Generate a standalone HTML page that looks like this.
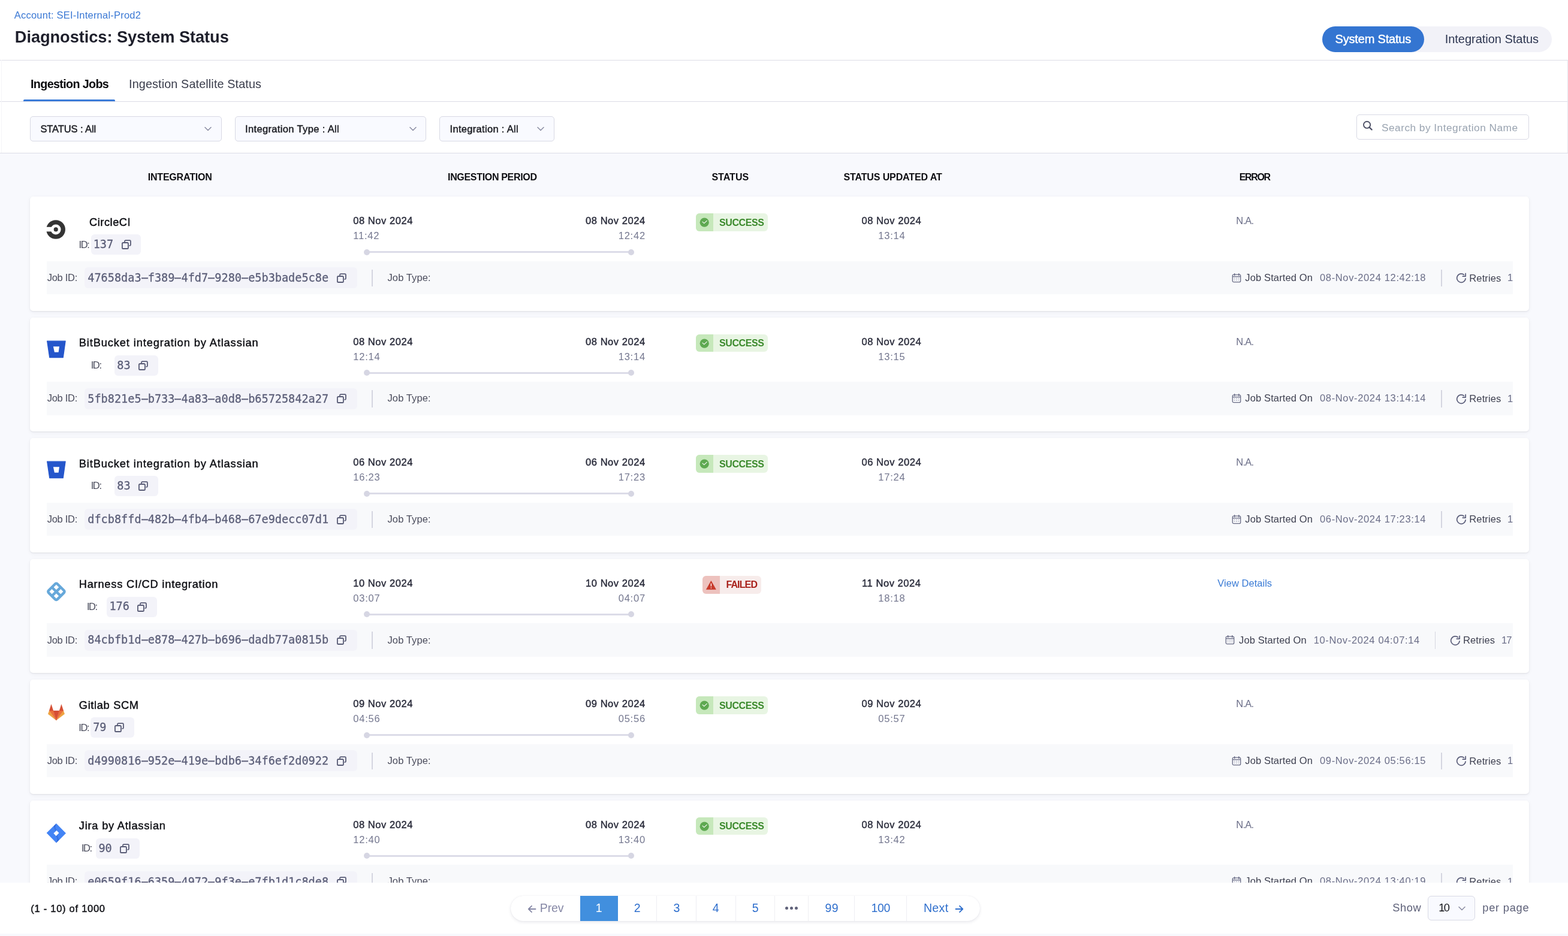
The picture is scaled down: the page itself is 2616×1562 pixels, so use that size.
<!DOCTYPE html><html lang="en"><head><meta charset="utf-8"><title>Diagnostics: System Status</title><style>
*{margin:0;padding:0;box-sizing:border-box}
html,body{width:2616px;height:1562px;overflow:hidden;background:#f8f9fd}
body{position:relative;font-family:'Liberation Sans',Arial,sans-serif}
.t{position:absolute;white-space:nowrap;line-height:1.117}
.r{position:absolute;display:block}
.m{display:inline-block;width:0;height:0;vertical-align:baseline}
.hy{display:inline-block;transform:scaleX(2.2)}
</style></head><body>
<div class="r" style="left:0.00px;top:0.00px;width:2616.00px;height:256.00px;background:#ffffff;"></div>
<div class="t" style="left:23.80px;top:16px;font-size:16.5px;color:#3a78d4;letter-spacing:0.217px;">Account: SEI-Internal-Prod2</div>
<div class="t" style="left:24.80px;top:47px;font-size:27.25px;color:#1e1f2b;font-weight:700;letter-spacing:-0.076px;">Diagnostics: System Status</div>
<div class="r" style="left:2205.90px;top:44.00px;width:382.90px;height:42.80px;background:#f2f2f8;border-radius:22px;"></div>
<div class="r" style="left:2205.90px;top:44.00px;width:170.10px;height:42.80px;background:#3475d1;border-radius:22px;"></div>
<div class="t" style="left:2227.60px;top:54px;font-size:20px;color:#ffffff;-webkit-text-stroke:0.45px #ffffff;letter-spacing:-0.187px;">System Status</div>
<div class="t" style="left:2410.70px;top:54px;font-size:20px;color:#2c3550;letter-spacing:-0.026px;">Integration Status</div>
<div class="r" style="left:0.00px;top:100.00px;width:2616.00px;height:1.20px;background:#dcdce6;"></div>
<div class="t" style="left:51.00px;top:129px;font-size:19.75px;color:#0b0b0d;font-weight:700;letter-spacing:-0.658px;">Ingestion Jobs</div>
<div class="t" style="left:215.00px;top:129px;font-size:19.75px;color:#383b4a;letter-spacing:0.144px;">Ingestion Satellite Status</div>
<div class="r" style="left:0.00px;top:168.60px;width:2616.00px;height:1.40px;background:#dcdce6;"></div>
<div class="r" style="left:39.00px;top:166.20px;width:153.30px;height:3.00px;background:#3a7bd8;border-radius:2px 2px 0 0;"></div>
<div class="r" style="left:2614.60px;top:100.00px;width:1.40px;height:156.00px;background:#e6e6ee;"></div>
<div class="r" style="left:1.80px;top:100.00px;width:1.00px;height:156.00px;background:#f5f5f8;"></div>
<div class="r" style="left:50.00px;top:194.20px;width:320.00px;height:42.20px;background:#f9faff;border:1.3px solid #d8d9e4;border-radius:5px;box-sizing:border-box;"></div>
<div class="t" style="left:67.40px;top:206px;font-size:16.5px;color:#1b1c22;-webkit-text-stroke:0.45px #1b1c22;letter-spacing:-0.091px;">STATUS : All</div>
<svg class="r" style="left:341.30px;top:211.00px" width="12" height="9" viewBox="0 0 12 9"><path d="M1 1.5 L6 6.5 L11 1.5" fill="none" stroke="#8a8ca3" stroke-width="1.5" stroke-linecap="round" stroke-linejoin="round"/></svg>
<div class="r" style="left:391.60px;top:194.20px;width:319.10px;height:42.20px;background:#f9faff;border:1.3px solid #d8d9e4;border-radius:5px;box-sizing:border-box;"></div>
<div class="t" style="left:409.00px;top:206px;font-size:16.5px;color:#1b1c22;-webkit-text-stroke:0.45px #1b1c22;letter-spacing:0.357px;">Integration Type : All</div>
<svg class="r" style="left:683.10px;top:211.00px" width="12" height="9" viewBox="0 0 12 9"><path d="M1 1.5 L6 6.5 L11 1.5" fill="none" stroke="#8a8ca3" stroke-width="1.5" stroke-linecap="round" stroke-linejoin="round"/></svg>
<div class="r" style="left:733.20px;top:194.20px;width:191.40px;height:42.20px;background:#f9faff;border:1.3px solid #d8d9e4;border-radius:5px;box-sizing:border-box;"></div>
<div class="t" style="left:750.60px;top:206px;font-size:16.5px;color:#1b1c22;-webkit-text-stroke:0.45px #1b1c22;letter-spacing:0.303px;">Integration : All</div>
<svg class="r" style="left:896.30px;top:211.00px" width="12" height="9" viewBox="0 0 12 9"><path d="M1 1.5 L6 6.5 L11 1.5" fill="none" stroke="#8a8ca3" stroke-width="1.5" stroke-linecap="round" stroke-linejoin="round"/></svg>
<div class="r" style="left:2263.30px;top:191.30px;width:287.30px;height:42.10px;background:#ffffff;border:1.3px solid #d8d9e4;border-radius:5px;box-sizing:border-box;"></div>
<svg class="r" style="left:2272.00px;top:200.00px" width="20" height="20" viewBox="0 0 20 20"><circle cx="8.6" cy="8.3" r="5.6" fill="none" stroke="#4f5267" stroke-width="1.9"/><path d="M12.6 12.4 L16.6 16.4" stroke="#4f5267" stroke-width="2.2" stroke-linecap="round"/></svg>
<div class="t" style="left:2305.00px;top:204px;font-size:17.25px;color:#9aa4b1;letter-spacing:0.488px;">Search by Integration Name</div>
<div class="r" style="left:0.00px;top:255.00px;width:2616.00px;height:1.20px;background:#dcdce6;"></div>
<div class="r" style="left:0.00px;top:256.20px;width:2616.00px;height:1216.80px;background:#f8f9fd;"></div>
<div class="t" style="left:246.70px;top:287px;font-size:16px;color:#0c0c10;font-weight:700;letter-spacing:-0.195px;">INTEGRATION</div>
<div class="t" style="left:747.00px;top:287px;font-size:16px;color:#0c0c10;font-weight:700;letter-spacing:-0.320px;">INGESTION PERIOD</div>
<div class="t" style="left:1187.40px;top:287px;font-size:16px;color:#0c0c10;font-weight:700;letter-spacing:0.030px;">STATUS</div>
<div class="t" style="left:1407.40px;top:287px;font-size:16px;color:#0c0c10;font-weight:700;letter-spacing:-0.113px;">STATUS UPDATED AT</div>
<div class="t" style="left:2067.70px;top:287px;font-size:16px;color:#0c0c10;font-weight:700;letter-spacing:-1.325px;">ERROR</div>
<div style="position:absolute;left:0;top:256px;width:2616px;height:1217px;overflow:hidden;">
<div style="position:absolute;left:0;top:-256px;width:2616px;height:1600px;">
<div class="r" style="left:50.00px;top:328.00px;width:2500.60px;height:190.60px;background:#ffffff;border-radius:5px;box-shadow:0 1px 2px rgba(40,45,60,0.09),0 2px 7px rgba(40,45,60,0.05);"></div>
<svg class="r" style="left:76.00px;top:366.00px" width="34" height="34" viewBox="0 0 34 34"><circle cx="17.1" cy="17" r="15.85" fill="#343434"/><circle cx="17.1" cy="17" r="8.5" fill="#fff"/><rect x="0" y="12.8" width="17" height="7.6" fill="#fff"/><circle cx="17.25" cy="16.9" r="3.55" fill="#343434"/></svg>
<div class="t" style="left:149.00px;top:361px;font-size:18.25px;color:#0e0f14;-webkit-text-stroke:0.45px #0e0f14;letter-spacing:0.529px;">CircleCI</div>
<div class="t" style="left:131.50px;top:399px;font-size:16.5px;color:#4a4c5c;letter-spacing:-1.400px;">ID:</div>
<div class="r" style="left:151.50px;top:391.00px;width:83.70px;height:34.00px;background:#f3f3f9;border-radius:6px;"></div>
<div class="t" style="left:155.70px;top:398px;font-size:18.55px;color:#5b5e78;font-family:'DejaVu Sans Mono',monospace;-webkit-text-stroke:0.3px #5b5e78;">137</div>
<svg class="r" style="left:202.70px;top:400.30px" width="16" height="16" viewBox="0 0 16 16"><rect x="0.9" y="5" width="10" height="10" rx="1.6" fill="none" stroke="#585b75" stroke-width="1.8"/><path d="M5 3.2 V2.6 a1.5 1.5 0 0 1 1.5 -1.5 H13.4 a1.5 1.5 0 0 1 1.5 1.5 V8.4 a1.5 1.5 0 0 1 -1.5 1.5 H13.2" fill="none" stroke="#585b75" stroke-width="1.8" stroke-linecap="round"/></svg>
<div class="t" style="left:589.20px;top:359px;font-size:16.5px;color:#2b2d3c;-webkit-text-stroke:0.45px #2b2d3c;letter-spacing:0.565px;">08 Nov 2024</div>
<div class="t" style="left:589.20px;top:384px;font-size:16.5px;color:#74778f;letter-spacing:0.812px;">11:42</div>
<div class="t" style="left:977.00px;top:359px;font-size:16.5px;color:#2b2d3c;-webkit-text-stroke:0.45px #2b2d3c;letter-spacing:0.565px;">08 Nov 2024</div>
<div class="t" style="left:1031.65px;top:384px;font-size:16.5px;color:#74778f;letter-spacing:0.812px;">12:42</div>
<div class="r" style="left:612.40px;top:419.00px;width:440.10px;height:3.00px;background:#dcdce8;"></div>
<div class="r" style="left:607.40px;top:415.50px;width:10.00px;height:10.00px;background:#d6d6e3;border-radius:50%;"></div>
<div class="r" style="left:1047.50px;top:415.50px;width:10.00px;height:10.00px;background:#d6d6e3;border-radius:50%;"></div>
<div class="r" style="left:1161.10px;top:356.00px;width:119.80px;height:29.80px;background:#e8f5e3;border-radius:6px;"></div>
<div class="r" style="left:1161.10px;top:356.00px;width:29.00px;height:29.80px;background:#c6e8bb;border-radius:6px 0 0 6px;"></div>
<svg class="r" style="left:1161.10px;top:356.00px" width="29" height="30" viewBox="0 0 29 30"><circle cx="14.2" cy="15.2" r="7.6" fill="#5ea951"/><path d="M11 14.2 L13.7 16.7 L18.3 12.4" fill="none" stroke="#fff" stroke-width="1.1" stroke-linecap="round" stroke-linejoin="round"/></svg>
<div class="t" style="left:1200.00px;top:363px;font-size:16px;color:#3b8a2c;font-weight:700;letter-spacing:-0.392px;">SUCCESS</div>
<div class="t" style="left:1437.40px;top:359px;font-size:16.5px;color:#2b2d3c;-webkit-text-stroke:0.45px #2b2d3c;letter-spacing:0.565px;">08 Nov 2024</div>
<div class="t" style="left:1465.22px;top:384px;font-size:16.5px;color:#74778f;letter-spacing:0.812px;">13:14</div>
<div class="t" style="left:2062.35px;top:359px;font-size:16.5px;color:#6b6e88;letter-spacing:-0.800px;">N.A.</div>
<div class="r" style="left:78.00px;top:435.50px;width:2446.00px;height:55.50px;background:#f8f9fb;"></div>
<div class="t" style="left:78.70px;top:454px;font-size:16.5px;color:#4a4c5c;letter-spacing:-0.275px;">Job ID:</div>
<div class="r" style="left:141.00px;top:446.00px;width:454.60px;height:35.00px;background:#f3f3f9;border-radius:6px;"></div>
<div class="t" style="left:146.30px;top:454px;font-size:18.55px;color:#5b5e78;font-family:'DejaVu Sans Mono',monospace;-webkit-text-stroke:0.3px #5b5e78;">47658da3<span class="hy">-</span>f389<span class="hy">-</span>4fd7<span class="hy">-</span>9280<span class="hy">-</span>e5b3bade5c8e</div>
<svg class="r" style="left:562.00px;top:455.60px" width="16" height="16" viewBox="0 0 16 16"><rect x="0.9" y="5" width="10" height="10" rx="1.6" fill="none" stroke="#585b75" stroke-width="1.8"/><path d="M5 3.2 V2.6 a1.5 1.5 0 0 1 1.5 -1.5 H13.4 a1.5 1.5 0 0 1 1.5 1.5 V8.4 a1.5 1.5 0 0 1 -1.5 1.5 H13.2" fill="none" stroke="#585b75" stroke-width="1.8" stroke-linecap="round"/></svg>
<div class="r" style="left:620.30px;top:449.70px;width:1.50px;height:28.70px;background:#d5d6e0;"></div>
<div class="t" style="left:646.50px;top:454px;font-size:16.5px;color:#4a4c5c;letter-spacing:0.106px;">Job Type:</div>
<svg class="r" style="left:2054.50px;top:455.60px" width="16" height="16" viewBox="0 0 16 16"><rect x="1.3" y="2.2" width="13.4" height="12.5" rx="2" fill="none" stroke="#686b85" stroke-width="1.3"/><path d="M1.3 5.6 H14.7" stroke="#686b85" stroke-width="1.3"/><path d="M4.7 0.8 V3.4 M11.8 0.8 V3.4" stroke="#686b85" stroke-width="1.5" stroke-linecap="round"/><g fill="#b4b6c6"><rect x="3.5" y="7.6" width="2" height="1.4"/><rect x="7" y="7.6" width="2" height="1.4"/><rect x="10.5" y="7.6" width="2" height="1.4"/><rect x="3.5" y="10.6" width="2" height="1.4"/><rect x="7" y="10.6" width="2" height="1.4"/><rect x="10.5" y="10.6" width="2" height="1.4"/></g></svg>
<div class="t" style="left:2077.30px;top:454px;font-size:16.5px;color:#3e4050;letter-spacing:0.131px;">Job Started On</div>
<div class="t" style="left:2202.00px;top:454px;font-size:16.5px;color:#6b6e88;letter-spacing:0.647px;">08-Nov-2024 12:42:18</div>
<div class="r" style="left:2404.00px;top:449.70px;width:1.50px;height:28.70px;background:#d5d6e0;"></div>
<svg class="r" style="left:2429.00px;top:455.00px" width="18" height="18" viewBox="0 0 18 18"><path d="M16.1 9.3 A7.2 7.2 0 1 1 13.9 3.9" fill="none" stroke="#5b5e7a" stroke-width="1.7"/><path d="M16.1 1.3 V6.1 H11.3" fill="none" stroke="#5b5e7a" stroke-width="1.7" stroke-linejoin="round" stroke-linecap="round"/></svg>
<div class="t" style="left:2451.30px;top:455px;font-size:16.5px;color:#3e4050;letter-spacing:0.131px;">Retries</div>
<div class="t" style="left:2515.00px;top:454px;font-size:16.5px;color:#6b6e88;">1</div>
<div class="r" style="left:50.00px;top:529.50px;width:2500.60px;height:190.60px;background:#ffffff;border-radius:5px;box-shadow:0 1px 2px rgba(40,45,60,0.09),0 2px 7px rgba(40,45,60,0.05);"></div>
<svg class="r" style="left:76.00px;top:565.50px" width="36" height="34" viewBox="0 0 36 34"><path d="M2.7 3.2 H33.1 L29.2 30.7 H6.8 Z" fill="#2556cb" stroke="#2556cb" stroke-width="1.3" stroke-linejoin="round"/><path d="M12.85 12.3 H23 L21.6 21.7 H14.9 Z" fill="#fff"/></svg>
<div class="t" style="left:131.70px;top:562px;font-size:18.25px;color:#0e0f14;-webkit-text-stroke:0.45px #0e0f14;letter-spacing:0.886px;">BitBucket integration by Atlassian</div>
<div class="t" style="left:151.70px;top:600px;font-size:16.5px;color:#4a4c5c;letter-spacing:-1.400px;">ID:</div>
<div class="r" style="left:191.10px;top:592.50px;width:72.53px;height:34.00px;background:#f3f3f9;border-radius:6px;"></div>
<div class="t" style="left:195.30px;top:600px;font-size:18.55px;color:#5b5e78;font-family:'DejaVu Sans Mono',monospace;-webkit-text-stroke:0.3px #5b5e78;">83</div>
<svg class="r" style="left:231.13px;top:601.80px" width="16" height="16" viewBox="0 0 16 16"><rect x="0.9" y="5" width="10" height="10" rx="1.6" fill="none" stroke="#585b75" stroke-width="1.8"/><path d="M5 3.2 V2.6 a1.5 1.5 0 0 1 1.5 -1.5 H13.4 a1.5 1.5 0 0 1 1.5 1.5 V8.4 a1.5 1.5 0 0 1 -1.5 1.5 H13.2" fill="none" stroke="#585b75" stroke-width="1.8" stroke-linecap="round"/></svg>
<div class="t" style="left:589.20px;top:561px;font-size:16.5px;color:#2b2d3c;-webkit-text-stroke:0.45px #2b2d3c;letter-spacing:0.565px;">08 Nov 2024</div>
<div class="t" style="left:589.20px;top:586px;font-size:16.5px;color:#74778f;letter-spacing:0.812px;">12:14</div>
<div class="t" style="left:977.00px;top:561px;font-size:16.5px;color:#2b2d3c;-webkit-text-stroke:0.45px #2b2d3c;letter-spacing:0.565px;">08 Nov 2024</div>
<div class="t" style="left:1031.65px;top:586px;font-size:16.5px;color:#74778f;letter-spacing:0.812px;">13:14</div>
<div class="r" style="left:612.40px;top:620.50px;width:440.10px;height:3.00px;background:#dcdce8;"></div>
<div class="r" style="left:607.40px;top:617.00px;width:10.00px;height:10.00px;background:#d6d6e3;border-radius:50%;"></div>
<div class="r" style="left:1047.50px;top:617.00px;width:10.00px;height:10.00px;background:#d6d6e3;border-radius:50%;"></div>
<div class="r" style="left:1161.10px;top:557.50px;width:119.80px;height:29.80px;background:#e8f5e3;border-radius:6px;"></div>
<div class="r" style="left:1161.10px;top:557.50px;width:29.00px;height:29.80px;background:#c6e8bb;border-radius:6px 0 0 6px;"></div>
<svg class="r" style="left:1161.10px;top:557.50px" width="29" height="30" viewBox="0 0 29 30"><circle cx="14.2" cy="15.2" r="7.6" fill="#5ea951"/><path d="M11 14.2 L13.7 16.7 L18.3 12.4" fill="none" stroke="#fff" stroke-width="1.1" stroke-linecap="round" stroke-linejoin="round"/></svg>
<div class="t" style="left:1200.00px;top:564px;font-size:16px;color:#3b8a2c;font-weight:700;letter-spacing:-0.392px;">SUCCESS</div>
<div class="t" style="left:1437.40px;top:561px;font-size:16.5px;color:#2b2d3c;-webkit-text-stroke:0.45px #2b2d3c;letter-spacing:0.565px;">08 Nov 2024</div>
<div class="t" style="left:1465.22px;top:586px;font-size:16.5px;color:#74778f;letter-spacing:0.812px;">13:15</div>
<div class="t" style="left:2062.35px;top:561px;font-size:16.5px;color:#6b6e88;letter-spacing:-0.800px;">N.A.</div>
<div class="r" style="left:78.00px;top:637.00px;width:2446.00px;height:55.50px;background:#f8f9fb;"></div>
<div class="t" style="left:78.70px;top:655px;font-size:16.5px;color:#4a4c5c;letter-spacing:-0.275px;">Job ID:</div>
<div class="r" style="left:141.00px;top:647.50px;width:454.60px;height:35.00px;background:#f3f3f9;border-radius:6px;"></div>
<div class="t" style="left:146.30px;top:656px;font-size:18.55px;color:#5b5e78;font-family:'DejaVu Sans Mono',monospace;-webkit-text-stroke:0.3px #5b5e78;">5fb821e5<span class="hy">-</span>b733<span class="hy">-</span>4a83<span class="hy">-</span>a0d8<span class="hy">-</span>b65725842a27</div>
<svg class="r" style="left:562.00px;top:657.10px" width="16" height="16" viewBox="0 0 16 16"><rect x="0.9" y="5" width="10" height="10" rx="1.6" fill="none" stroke="#585b75" stroke-width="1.8"/><path d="M5 3.2 V2.6 a1.5 1.5 0 0 1 1.5 -1.5 H13.4 a1.5 1.5 0 0 1 1.5 1.5 V8.4 a1.5 1.5 0 0 1 -1.5 1.5 H13.2" fill="none" stroke="#585b75" stroke-width="1.8" stroke-linecap="round"/></svg>
<div class="r" style="left:620.30px;top:651.20px;width:1.50px;height:28.70px;background:#d5d6e0;"></div>
<div class="t" style="left:646.50px;top:655px;font-size:16.5px;color:#4a4c5c;letter-spacing:0.106px;">Job Type:</div>
<svg class="r" style="left:2054.50px;top:657.10px" width="16" height="16" viewBox="0 0 16 16"><rect x="1.3" y="2.2" width="13.4" height="12.5" rx="2" fill="none" stroke="#686b85" stroke-width="1.3"/><path d="M1.3 5.6 H14.7" stroke="#686b85" stroke-width="1.3"/><path d="M4.7 0.8 V3.4 M11.8 0.8 V3.4" stroke="#686b85" stroke-width="1.5" stroke-linecap="round"/><g fill="#b4b6c6"><rect x="3.5" y="7.6" width="2" height="1.4"/><rect x="7" y="7.6" width="2" height="1.4"/><rect x="10.5" y="7.6" width="2" height="1.4"/><rect x="3.5" y="10.6" width="2" height="1.4"/><rect x="7" y="10.6" width="2" height="1.4"/><rect x="10.5" y="10.6" width="2" height="1.4"/></g></svg>
<div class="t" style="left:2077.30px;top:655px;font-size:16.5px;color:#3e4050;letter-spacing:0.131px;">Job Started On</div>
<div class="t" style="left:2202.00px;top:655px;font-size:16.5px;color:#6b6e88;letter-spacing:0.647px;">08-Nov-2024 13:14:14</div>
<div class="r" style="left:2404.00px;top:651.20px;width:1.50px;height:28.70px;background:#d5d6e0;"></div>
<svg class="r" style="left:2429.00px;top:656.50px" width="18" height="18" viewBox="0 0 18 18"><path d="M16.1 9.3 A7.2 7.2 0 1 1 13.9 3.9" fill="none" stroke="#5b5e7a" stroke-width="1.7"/><path d="M16.1 1.3 V6.1 H11.3" fill="none" stroke="#5b5e7a" stroke-width="1.7" stroke-linejoin="round" stroke-linecap="round"/></svg>
<div class="t" style="left:2451.30px;top:656px;font-size:16.5px;color:#3e4050;letter-spacing:0.131px;">Retries</div>
<div class="t" style="left:2515.00px;top:656px;font-size:16.5px;color:#6b6e88;">1</div>
<div class="r" style="left:50.00px;top:731.00px;width:2500.60px;height:190.60px;background:#ffffff;border-radius:5px;box-shadow:0 1px 2px rgba(40,45,60,0.09),0 2px 7px rgba(40,45,60,0.05);"></div>
<svg class="r" style="left:76.00px;top:767.00px" width="36" height="34" viewBox="0 0 36 34"><path d="M2.7 3.2 H33.1 L29.2 30.7 H6.8 Z" fill="#2556cb" stroke="#2556cb" stroke-width="1.3" stroke-linejoin="round"/><path d="M12.85 12.3 H23 L21.6 21.7 H14.9 Z" fill="#fff"/></svg>
<div class="t" style="left:131.70px;top:764px;font-size:18.25px;color:#0e0f14;-webkit-text-stroke:0.45px #0e0f14;letter-spacing:0.886px;">BitBucket integration by Atlassian</div>
<div class="t" style="left:151.70px;top:801px;font-size:16.5px;color:#4a4c5c;letter-spacing:-1.400px;">ID:</div>
<div class="r" style="left:191.10px;top:794.00px;width:72.53px;height:34.00px;background:#f3f3f9;border-radius:6px;"></div>
<div class="t" style="left:195.30px;top:801px;font-size:18.55px;color:#5b5e78;font-family:'DejaVu Sans Mono',monospace;-webkit-text-stroke:0.3px #5b5e78;">83</div>
<svg class="r" style="left:231.13px;top:803.30px" width="16" height="16" viewBox="0 0 16 16"><rect x="0.9" y="5" width="10" height="10" rx="1.6" fill="none" stroke="#585b75" stroke-width="1.8"/><path d="M5 3.2 V2.6 a1.5 1.5 0 0 1 1.5 -1.5 H13.4 a1.5 1.5 0 0 1 1.5 1.5 V8.4 a1.5 1.5 0 0 1 -1.5 1.5 H13.2" fill="none" stroke="#585b75" stroke-width="1.8" stroke-linecap="round"/></svg>
<div class="t" style="left:589.20px;top:762px;font-size:16.5px;color:#2b2d3c;-webkit-text-stroke:0.45px #2b2d3c;letter-spacing:0.565px;">06 Nov 2024</div>
<div class="t" style="left:589.20px;top:787px;font-size:16.5px;color:#74778f;letter-spacing:0.812px;">16:23</div>
<div class="t" style="left:977.00px;top:762px;font-size:16.5px;color:#2b2d3c;-webkit-text-stroke:0.45px #2b2d3c;letter-spacing:0.565px;">06 Nov 2024</div>
<div class="t" style="left:1031.65px;top:787px;font-size:16.5px;color:#74778f;letter-spacing:0.812px;">17:23</div>
<div class="r" style="left:612.40px;top:822.00px;width:440.10px;height:3.00px;background:#dcdce8;"></div>
<div class="r" style="left:607.40px;top:818.50px;width:10.00px;height:10.00px;background:#d6d6e3;border-radius:50%;"></div>
<div class="r" style="left:1047.50px;top:818.50px;width:10.00px;height:10.00px;background:#d6d6e3;border-radius:50%;"></div>
<div class="r" style="left:1161.10px;top:759.00px;width:119.80px;height:29.80px;background:#e8f5e3;border-radius:6px;"></div>
<div class="r" style="left:1161.10px;top:759.00px;width:29.00px;height:29.80px;background:#c6e8bb;border-radius:6px 0 0 6px;"></div>
<svg class="r" style="left:1161.10px;top:759.00px" width="29" height="30" viewBox="0 0 29 30"><circle cx="14.2" cy="15.2" r="7.6" fill="#5ea951"/><path d="M11 14.2 L13.7 16.7 L18.3 12.4" fill="none" stroke="#fff" stroke-width="1.1" stroke-linecap="round" stroke-linejoin="round"/></svg>
<div class="t" style="left:1200.00px;top:766px;font-size:16px;color:#3b8a2c;font-weight:700;letter-spacing:-0.392px;">SUCCESS</div>
<div class="t" style="left:1437.40px;top:762px;font-size:16.5px;color:#2b2d3c;-webkit-text-stroke:0.45px #2b2d3c;letter-spacing:0.565px;">06 Nov 2024</div>
<div class="t" style="left:1465.22px;top:787px;font-size:16.5px;color:#74778f;letter-spacing:0.812px;">17:24</div>
<div class="t" style="left:2062.35px;top:762px;font-size:16.5px;color:#6b6e88;letter-spacing:-0.800px;">N.A.</div>
<div class="r" style="left:78.00px;top:838.50px;width:2446.00px;height:55.50px;background:#f8f9fb;"></div>
<div class="t" style="left:78.70px;top:857px;font-size:16.5px;color:#4a4c5c;letter-spacing:-0.275px;">Job ID:</div>
<div class="r" style="left:141.00px;top:849.00px;width:454.60px;height:35.00px;background:#f3f3f9;border-radius:6px;"></div>
<div class="t" style="left:146.30px;top:857px;font-size:18.55px;color:#5b5e78;font-family:'DejaVu Sans Mono',monospace;-webkit-text-stroke:0.3px #5b5e78;">dfcb8ffd<span class="hy">-</span>482b<span class="hy">-</span>4fb4<span class="hy">-</span>b468<span class="hy">-</span>67e9decc07d1</div>
<svg class="r" style="left:562.00px;top:858.60px" width="16" height="16" viewBox="0 0 16 16"><rect x="0.9" y="5" width="10" height="10" rx="1.6" fill="none" stroke="#585b75" stroke-width="1.8"/><path d="M5 3.2 V2.6 a1.5 1.5 0 0 1 1.5 -1.5 H13.4 a1.5 1.5 0 0 1 1.5 1.5 V8.4 a1.5 1.5 0 0 1 -1.5 1.5 H13.2" fill="none" stroke="#585b75" stroke-width="1.8" stroke-linecap="round"/></svg>
<div class="r" style="left:620.30px;top:852.70px;width:1.50px;height:28.70px;background:#d5d6e0;"></div>
<div class="t" style="left:646.50px;top:857px;font-size:16.5px;color:#4a4c5c;letter-spacing:0.106px;">Job Type:</div>
<svg class="r" style="left:2054.50px;top:858.60px" width="16" height="16" viewBox="0 0 16 16"><rect x="1.3" y="2.2" width="13.4" height="12.5" rx="2" fill="none" stroke="#686b85" stroke-width="1.3"/><path d="M1.3 5.6 H14.7" stroke="#686b85" stroke-width="1.3"/><path d="M4.7 0.8 V3.4 M11.8 0.8 V3.4" stroke="#686b85" stroke-width="1.5" stroke-linecap="round"/><g fill="#b4b6c6"><rect x="3.5" y="7.6" width="2" height="1.4"/><rect x="7" y="7.6" width="2" height="1.4"/><rect x="10.5" y="7.6" width="2" height="1.4"/><rect x="3.5" y="10.6" width="2" height="1.4"/><rect x="7" y="10.6" width="2" height="1.4"/><rect x="10.5" y="10.6" width="2" height="1.4"/></g></svg>
<div class="t" style="left:2077.30px;top:857px;font-size:16.5px;color:#3e4050;letter-spacing:0.131px;">Job Started On</div>
<div class="t" style="left:2202.00px;top:857px;font-size:16.5px;color:#6b6e88;letter-spacing:0.647px;">06-Nov-2024 17:23:14</div>
<div class="r" style="left:2404.00px;top:852.70px;width:1.50px;height:28.70px;background:#d5d6e0;"></div>
<svg class="r" style="left:2429.00px;top:858.00px" width="18" height="18" viewBox="0 0 18 18"><path d="M16.1 9.3 A7.2 7.2 0 1 1 13.9 3.9" fill="none" stroke="#5b5e7a" stroke-width="1.7"/><path d="M16.1 1.3 V6.1 H11.3" fill="none" stroke="#5b5e7a" stroke-width="1.7" stroke-linejoin="round" stroke-linecap="round"/></svg>
<div class="t" style="left:2451.30px;top:857px;font-size:16.5px;color:#3e4050;letter-spacing:0.131px;">Retries</div>
<div class="t" style="left:2515.00px;top:857px;font-size:16.5px;color:#6b6e88;">1</div>
<div class="r" style="left:50.00px;top:932.50px;width:2500.60px;height:190.60px;background:#ffffff;border-radius:5px;box-shadow:0 1px 2px rgba(40,45,60,0.09),0 2px 7px rgba(40,45,60,0.05);"></div>
<svg class="r" style="left:76.00px;top:968.50px" width="36" height="36" viewBox="0 0 36 36"><g transform="rotate(45 17.9 18.3)" fill="none" stroke="#66a8da" stroke-width="4.4"><rect x="7.499999999999998" y="7.9" width="20.8" height="20.8" rx="2.6"/><path d="M7.499999999999998 18.3 H28.299999999999997 M17.9 7.9 V28.700000000000003"/></g></svg>
<div class="t" style="left:131.70px;top:965px;font-size:18.25px;color:#0e0f14;-webkit-text-stroke:0.45px #0e0f14;letter-spacing:0.779px;">Harness CI/CD integration</div>
<div class="t" style="left:144.90px;top:1003px;font-size:16.5px;color:#4a4c5c;letter-spacing:-1.400px;">ID:</div>
<div class="r" style="left:178.20px;top:995.50px;width:83.70px;height:34.00px;background:#f3f3f9;border-radius:6px;"></div>
<div class="t" style="left:182.40px;top:1002px;font-size:18.55px;color:#5b5e78;font-family:'DejaVu Sans Mono',monospace;-webkit-text-stroke:0.3px #5b5e78;">176</div>
<svg class="r" style="left:229.40px;top:1004.80px" width="16" height="16" viewBox="0 0 16 16"><rect x="0.9" y="5" width="10" height="10" rx="1.6" fill="none" stroke="#585b75" stroke-width="1.8"/><path d="M5 3.2 V2.6 a1.5 1.5 0 0 1 1.5 -1.5 H13.4 a1.5 1.5 0 0 1 1.5 1.5 V8.4 a1.5 1.5 0 0 1 -1.5 1.5 H13.2" fill="none" stroke="#585b75" stroke-width="1.8" stroke-linecap="round"/></svg>
<div class="t" style="left:589.20px;top:964px;font-size:16.5px;color:#2b2d3c;-webkit-text-stroke:0.45px #2b2d3c;letter-spacing:0.565px;">10 Nov 2024</div>
<div class="t" style="left:589.20px;top:989px;font-size:16.5px;color:#74778f;letter-spacing:0.812px;">03:07</div>
<div class="t" style="left:977.00px;top:964px;font-size:16.5px;color:#2b2d3c;-webkit-text-stroke:0.45px #2b2d3c;letter-spacing:0.565px;">10 Nov 2024</div>
<div class="t" style="left:1031.65px;top:989px;font-size:16.5px;color:#74778f;letter-spacing:0.812px;">04:07</div>
<div class="r" style="left:612.40px;top:1023.50px;width:440.10px;height:3.00px;background:#dcdce8;"></div>
<div class="r" style="left:607.40px;top:1020.00px;width:10.00px;height:10.00px;background:#d6d6e3;border-radius:50%;"></div>
<div class="r" style="left:1047.50px;top:1020.00px;width:10.00px;height:10.00px;background:#d6d6e3;border-radius:50%;"></div>
<div class="r" style="left:1172.00px;top:960.50px;width:97.80px;height:30.70px;background:#f7eceb;border-radius:6px;"></div>
<div class="r" style="left:1172.00px;top:960.50px;width:29.00px;height:30.70px;background:#edc2be;border-radius:6px 0 0 6px;"></div>
<svg class="r" style="left:1172.00px;top:960.50px" width="29" height="31" viewBox="0 0 29 31"><path d="M14.4 8.6 L22.3 22.6 H6.5 Z" fill="#c83a2b" stroke="#c83a2b" stroke-width="0.8" stroke-linejoin="round"/><path d="M14.4 12.6 V17.6" stroke="#fff" stroke-width="1.4"/><circle cx="14.4" cy="20.1" r="0.8" fill="#fff"/></svg>
<div class="t" style="left:1211.40px;top:967px;font-size:16px;color:#a8201a;font-weight:700;letter-spacing:-0.860px;">FAILED</div>
<div class="t" style="left:1438.00px;top:964px;font-size:16.5px;color:#2b2d3c;-webkit-text-stroke:0.45px #2b2d3c;letter-spacing:0.565px;">11 Nov 2024</div>
<div class="t" style="left:1465.22px;top:989px;font-size:16.5px;color:#74778f;letter-spacing:0.812px;">18:18</div>
<div class="t" style="left:2031.30px;top:964px;font-size:16.5px;color:#3a7bd5;letter-spacing:0.027px;">View Details</div>
<div class="r" style="left:78.00px;top:1040.00px;width:2446.00px;height:55.50px;background:#f8f9fb;"></div>
<div class="t" style="left:78.70px;top:1059px;font-size:16.5px;color:#4a4c5c;letter-spacing:-0.275px;">Job ID:</div>
<div class="r" style="left:141.00px;top:1050.50px;width:454.60px;height:35.00px;background:#f3f3f9;border-radius:6px;"></div>
<div class="t" style="left:146.30px;top:1058px;font-size:18.55px;color:#5b5e78;font-family:'DejaVu Sans Mono',monospace;-webkit-text-stroke:0.3px #5b5e78;">84cbfb1d<span class="hy">-</span>e878<span class="hy">-</span>427b<span class="hy">-</span>b696<span class="hy">-</span>dadb77a0815b</div>
<svg class="r" style="left:562.00px;top:1060.10px" width="16" height="16" viewBox="0 0 16 16"><rect x="0.9" y="5" width="10" height="10" rx="1.6" fill="none" stroke="#585b75" stroke-width="1.8"/><path d="M5 3.2 V2.6 a1.5 1.5 0 0 1 1.5 -1.5 H13.4 a1.5 1.5 0 0 1 1.5 1.5 V8.4 a1.5 1.5 0 0 1 -1.5 1.5 H13.2" fill="none" stroke="#585b75" stroke-width="1.8" stroke-linecap="round"/></svg>
<div class="r" style="left:620.30px;top:1054.20px;width:1.50px;height:28.70px;background:#d5d6e0;"></div>
<div class="t" style="left:646.50px;top:1059px;font-size:16.5px;color:#4a4c5c;letter-spacing:0.106px;">Job Type:</div>
<svg class="r" style="left:2044.20px;top:1060.10px" width="16" height="16" viewBox="0 0 16 16"><rect x="1.3" y="2.2" width="13.4" height="12.5" rx="2" fill="none" stroke="#686b85" stroke-width="1.3"/><path d="M1.3 5.6 H14.7" stroke="#686b85" stroke-width="1.3"/><path d="M4.7 0.8 V3.4 M11.8 0.8 V3.4" stroke="#686b85" stroke-width="1.5" stroke-linecap="round"/><g fill="#b4b6c6"><rect x="3.5" y="7.6" width="2" height="1.4"/><rect x="7" y="7.6" width="2" height="1.4"/><rect x="10.5" y="7.6" width="2" height="1.4"/><rect x="3.5" y="10.6" width="2" height="1.4"/><rect x="7" y="10.6" width="2" height="1.4"/><rect x="10.5" y="10.6" width="2" height="1.4"/></g></svg>
<div class="t" style="left:2067.00px;top:1059px;font-size:16.5px;color:#3e4050;letter-spacing:0.131px;">Job Started On</div>
<div class="t" style="left:2191.70px;top:1059px;font-size:16.5px;color:#6b6e88;letter-spacing:0.647px;">10-Nov-2024 04:07:14</div>
<div class="r" style="left:2393.70px;top:1054.20px;width:1.50px;height:28.70px;background:#d5d6e0;"></div>
<svg class="r" style="left:2418.70px;top:1059.50px" width="18" height="18" viewBox="0 0 18 18"><path d="M16.1 9.3 A7.2 7.2 0 1 1 13.9 3.9" fill="none" stroke="#5b5e7a" stroke-width="1.7"/><path d="M16.1 1.3 V6.1 H11.3" fill="none" stroke="#5b5e7a" stroke-width="1.7" stroke-linejoin="round" stroke-linecap="round"/></svg>
<div class="t" style="left:2441.00px;top:1059px;font-size:16.5px;color:#3e4050;letter-spacing:0.131px;">Retries</div>
<div class="t" style="left:2505.00px;top:1059px;font-size:16.5px;color:#6b6e88;letter-spacing:-1.050px;">17</div>
<div class="r" style="left:50.00px;top:1134.00px;width:2500.60px;height:190.60px;background:#ffffff;border-radius:5px;box-shadow:0 1px 2px rgba(40,45,60,0.09),0 2px 7px rgba(40,45,60,0.05);"></div>
<svg class="r" style="left:76.00px;top:1170.00px" width="36" height="36" viewBox="0 0 36 36"><polygon points="6.20,15.90 4.20,21.50 17.80,32.00" fill="#eea23f" stroke="#eea23f" stroke-width="0.35" stroke-linejoin="round"/><polygon points="29.80,15.90 31.70,21.50 17.80,32.00" fill="#eea23f" stroke="#eea23f" stroke-width="0.35" stroke-linejoin="round"/><polygon points="6.20,15.90 13.40,16.10 17.80,32.00" fill="#e9713a" stroke="#e9713a" stroke-width="0.35" stroke-linejoin="round"/><polygon points="29.80,15.90 22.60,16.10 17.80,32.00" fill="#e9713a" stroke="#e9713a" stroke-width="0.35" stroke-linejoin="round"/><polygon points="13.20,16.10 22.80,16.10 17.80,32.00" fill="#d54e33" stroke="#d54e33" stroke-width="0.35" stroke-linejoin="round"/><polygon points="6.20,15.90 9.50,5.50 12.90,15.90" fill="#d54e33" stroke="#d54e33" stroke-width="0.35" stroke-linejoin="round"/><polygon points="23.10,15.90 26.40,5.50 29.80,15.90" fill="#d54e33" stroke="#d54e33" stroke-width="0.35" stroke-linejoin="round"/></svg>
<div class="t" style="left:131.80px;top:1167px;font-size:18.25px;color:#0e0f14;-webkit-text-stroke:0.45px #0e0f14;letter-spacing:0.656px;">Gitlab SCM</div>
<div class="t" style="left:131.30px;top:1205px;font-size:16.5px;color:#4a4c5c;letter-spacing:-1.400px;">ID:</div>
<div class="r" style="left:151.00px;top:1197.00px;width:72.53px;height:34.00px;background:#f3f3f9;border-radius:6px;"></div>
<div class="t" style="left:155.20px;top:1204px;font-size:18.55px;color:#5b5e78;font-family:'DejaVu Sans Mono',monospace;-webkit-text-stroke:0.3px #5b5e78;">79</div>
<svg class="r" style="left:191.03px;top:1206.30px" width="16" height="16" viewBox="0 0 16 16"><rect x="0.9" y="5" width="10" height="10" rx="1.6" fill="none" stroke="#585b75" stroke-width="1.8"/><path d="M5 3.2 V2.6 a1.5 1.5 0 0 1 1.5 -1.5 H13.4 a1.5 1.5 0 0 1 1.5 1.5 V8.4 a1.5 1.5 0 0 1 -1.5 1.5 H13.2" fill="none" stroke="#585b75" stroke-width="1.8" stroke-linecap="round"/></svg>
<div class="t" style="left:589.20px;top:1165px;font-size:16.5px;color:#2b2d3c;-webkit-text-stroke:0.45px #2b2d3c;letter-spacing:0.565px;">09 Nov 2024</div>
<div class="t" style="left:589.20px;top:1190px;font-size:16.5px;color:#74778f;letter-spacing:0.812px;">04:56</div>
<div class="t" style="left:977.00px;top:1165px;font-size:16.5px;color:#2b2d3c;-webkit-text-stroke:0.45px #2b2d3c;letter-spacing:0.565px;">09 Nov 2024</div>
<div class="t" style="left:1031.65px;top:1190px;font-size:16.5px;color:#74778f;letter-spacing:0.812px;">05:56</div>
<div class="r" style="left:612.40px;top:1225.00px;width:440.10px;height:3.00px;background:#dcdce8;"></div>
<div class="r" style="left:607.40px;top:1221.50px;width:10.00px;height:10.00px;background:#d6d6e3;border-radius:50%;"></div>
<div class="r" style="left:1047.50px;top:1221.50px;width:10.00px;height:10.00px;background:#d6d6e3;border-radius:50%;"></div>
<div class="r" style="left:1161.10px;top:1162.00px;width:119.80px;height:29.80px;background:#e8f5e3;border-radius:6px;"></div>
<div class="r" style="left:1161.10px;top:1162.00px;width:29.00px;height:29.80px;background:#c6e8bb;border-radius:6px 0 0 6px;"></div>
<svg class="r" style="left:1161.10px;top:1162.00px" width="29" height="30" viewBox="0 0 29 30"><circle cx="14.2" cy="15.2" r="7.6" fill="#5ea951"/><path d="M11 14.2 L13.7 16.7 L18.3 12.4" fill="none" stroke="#fff" stroke-width="1.1" stroke-linecap="round" stroke-linejoin="round"/></svg>
<div class="t" style="left:1200.00px;top:1169px;font-size:16px;color:#3b8a2c;font-weight:700;letter-spacing:-0.392px;">SUCCESS</div>
<div class="t" style="left:1437.40px;top:1165px;font-size:16.5px;color:#2b2d3c;-webkit-text-stroke:0.45px #2b2d3c;letter-spacing:0.565px;">09 Nov 2024</div>
<div class="t" style="left:1465.22px;top:1190px;font-size:16.5px;color:#74778f;letter-spacing:0.812px;">05:57</div>
<div class="t" style="left:2062.35px;top:1165px;font-size:16.5px;color:#6b6e88;letter-spacing:-0.800px;">N.A.</div>
<div class="r" style="left:78.00px;top:1241.50px;width:2446.00px;height:55.50px;background:#f8f9fb;"></div>
<div class="t" style="left:78.70px;top:1260px;font-size:16.5px;color:#4a4c5c;letter-spacing:-0.275px;">Job ID:</div>
<div class="r" style="left:141.00px;top:1252.00px;width:454.60px;height:35.00px;background:#f3f3f9;border-radius:6px;"></div>
<div class="t" style="left:146.30px;top:1260px;font-size:18.55px;color:#5b5e78;font-family:'DejaVu Sans Mono',monospace;-webkit-text-stroke:0.3px #5b5e78;">d4990816<span class="hy">-</span>952e<span class="hy">-</span>419e<span class="hy">-</span>bdb6<span class="hy">-</span>34f6ef2d0922</div>
<svg class="r" style="left:562.00px;top:1261.60px" width="16" height="16" viewBox="0 0 16 16"><rect x="0.9" y="5" width="10" height="10" rx="1.6" fill="none" stroke="#585b75" stroke-width="1.8"/><path d="M5 3.2 V2.6 a1.5 1.5 0 0 1 1.5 -1.5 H13.4 a1.5 1.5 0 0 1 1.5 1.5 V8.4 a1.5 1.5 0 0 1 -1.5 1.5 H13.2" fill="none" stroke="#585b75" stroke-width="1.8" stroke-linecap="round"/></svg>
<div class="r" style="left:620.30px;top:1255.70px;width:1.50px;height:28.70px;background:#d5d6e0;"></div>
<div class="t" style="left:646.50px;top:1260px;font-size:16.5px;color:#4a4c5c;letter-spacing:0.106px;">Job Type:</div>
<svg class="r" style="left:2054.50px;top:1261.60px" width="16" height="16" viewBox="0 0 16 16"><rect x="1.3" y="2.2" width="13.4" height="12.5" rx="2" fill="none" stroke="#686b85" stroke-width="1.3"/><path d="M1.3 5.6 H14.7" stroke="#686b85" stroke-width="1.3"/><path d="M4.7 0.8 V3.4 M11.8 0.8 V3.4" stroke="#686b85" stroke-width="1.5" stroke-linecap="round"/><g fill="#b4b6c6"><rect x="3.5" y="7.6" width="2" height="1.4"/><rect x="7" y="7.6" width="2" height="1.4"/><rect x="10.5" y="7.6" width="2" height="1.4"/><rect x="3.5" y="10.6" width="2" height="1.4"/><rect x="7" y="10.6" width="2" height="1.4"/><rect x="10.5" y="10.6" width="2" height="1.4"/></g></svg>
<div class="t" style="left:2077.30px;top:1260px;font-size:16.5px;color:#3e4050;letter-spacing:0.131px;">Job Started On</div>
<div class="t" style="left:2202.00px;top:1260px;font-size:16.5px;color:#6b6e88;letter-spacing:0.647px;">09-Nov-2024 05:56:15</div>
<div class="r" style="left:2404.00px;top:1255.70px;width:1.50px;height:28.70px;background:#d5d6e0;"></div>
<svg class="r" style="left:2429.00px;top:1261.00px" width="18" height="18" viewBox="0 0 18 18"><path d="M16.1 9.3 A7.2 7.2 0 1 1 13.9 3.9" fill="none" stroke="#5b5e7a" stroke-width="1.7"/><path d="M16.1 1.3 V6.1 H11.3" fill="none" stroke="#5b5e7a" stroke-width="1.7" stroke-linejoin="round" stroke-linecap="round"/></svg>
<div class="t" style="left:2451.30px;top:1261px;font-size:16.5px;color:#3e4050;letter-spacing:0.131px;">Retries</div>
<div class="t" style="left:2515.00px;top:1260px;font-size:16.5px;color:#6b6e88;">1</div>
<div class="r" style="left:50.00px;top:1335.50px;width:2500.60px;height:190.60px;background:#ffffff;border-radius:5px;box-shadow:0 1px 2px rgba(40,45,60,0.09),0 2px 7px rgba(40,45,60,0.05);"></div>
<svg class="r" style="left:76.00px;top:1371.50px" width="36" height="36" viewBox="0 0 36 36"><defs><linearGradient id="jg1" x1="0.9" y1="0.2" x2="0.3" y2="0.6"><stop offset="0" stop-color="#1a45b5"/><stop offset="0.35" stop-color="#1f4fc2" stop-opacity="0.8"/><stop offset="1" stop-color="#4384f5" stop-opacity="0"/></linearGradient><linearGradient id="jg2" x1="0.1" y1="0.8" x2="0.7" y2="0.4"><stop offset="0" stop-color="#1a45b5"/><stop offset="0.35" stop-color="#1f4fc2" stop-opacity="0.8"/><stop offset="1" stop-color="#4384f5" stop-opacity="0"/></linearGradient></defs><path d="M17.90,2.60 L33.65,18.60 L17.90,34.30 L2.10,18.10 Z M18.40,13.40 L13.00,18.60 L17.60,23.50 L22.80,18.10 Z" fill="#4384f5" fill-rule="evenodd" stroke="#4384f5" stroke-width="0.8" stroke-linejoin="round"/><path d="M17.90,2.60 L10.20,10.20 L15.60,15.70 L18.40,13.40 C15.60,10.50 15.20,6.00 17.90,2.60 Z" fill="url(#jg1)"/><path d="M17.90,34.30 L25.80,26.30 L20.20,20.90 L17.60,23.50 C20.40,26.40 20.80,30.80 17.90,34.30 Z" fill="url(#jg2)"/></svg>
<div class="t" style="left:131.80px;top:1368px;font-size:18.25px;color:#0e0f14;-webkit-text-stroke:0.45px #0e0f14;letter-spacing:0.772px;">Jira by Atlassian</div>
<div class="t" style="left:135.90px;top:1406px;font-size:16.5px;color:#4a4c5c;letter-spacing:-1.400px;">ID:</div>
<div class="r" style="left:160.20px;top:1398.50px;width:72.53px;height:34.00px;background:#f3f3f9;border-radius:6px;"></div>
<div class="t" style="left:164.40px;top:1406px;font-size:18.55px;color:#5b5e78;font-family:'DejaVu Sans Mono',monospace;-webkit-text-stroke:0.3px #5b5e78;">90</div>
<svg class="r" style="left:200.23px;top:1407.80px" width="16" height="16" viewBox="0 0 16 16"><rect x="0.9" y="5" width="10" height="10" rx="1.6" fill="none" stroke="#585b75" stroke-width="1.8"/><path d="M5 3.2 V2.6 a1.5 1.5 0 0 1 1.5 -1.5 H13.4 a1.5 1.5 0 0 1 1.5 1.5 V8.4 a1.5 1.5 0 0 1 -1.5 1.5 H13.2" fill="none" stroke="#585b75" stroke-width="1.8" stroke-linecap="round"/></svg>
<div class="t" style="left:589.20px;top:1367px;font-size:16.5px;color:#2b2d3c;-webkit-text-stroke:0.45px #2b2d3c;letter-spacing:0.565px;">08 Nov 2024</div>
<div class="t" style="left:589.20px;top:1392px;font-size:16.5px;color:#74778f;letter-spacing:0.812px;">12:40</div>
<div class="t" style="left:977.00px;top:1367px;font-size:16.5px;color:#2b2d3c;-webkit-text-stroke:0.45px #2b2d3c;letter-spacing:0.565px;">08 Nov 2024</div>
<div class="t" style="left:1031.65px;top:1392px;font-size:16.5px;color:#74778f;letter-spacing:0.812px;">13:40</div>
<div class="r" style="left:612.40px;top:1426.50px;width:440.10px;height:3.00px;background:#dcdce8;"></div>
<div class="r" style="left:607.40px;top:1423.00px;width:10.00px;height:10.00px;background:#d6d6e3;border-radius:50%;"></div>
<div class="r" style="left:1047.50px;top:1423.00px;width:10.00px;height:10.00px;background:#d6d6e3;border-radius:50%;"></div>
<div class="r" style="left:1161.10px;top:1363.50px;width:119.80px;height:29.80px;background:#e8f5e3;border-radius:6px;"></div>
<div class="r" style="left:1161.10px;top:1363.50px;width:29.00px;height:29.80px;background:#c6e8bb;border-radius:6px 0 0 6px;"></div>
<svg class="r" style="left:1161.10px;top:1363.50px" width="29" height="30" viewBox="0 0 29 30"><circle cx="14.2" cy="15.2" r="7.6" fill="#5ea951"/><path d="M11 14.2 L13.7 16.7 L18.3 12.4" fill="none" stroke="#fff" stroke-width="1.1" stroke-linecap="round" stroke-linejoin="round"/></svg>
<div class="t" style="left:1200.00px;top:1370px;font-size:16px;color:#3b8a2c;font-weight:700;letter-spacing:-0.392px;">SUCCESS</div>
<div class="t" style="left:1437.40px;top:1367px;font-size:16.5px;color:#2b2d3c;-webkit-text-stroke:0.45px #2b2d3c;letter-spacing:0.565px;">08 Nov 2024</div>
<div class="t" style="left:1465.22px;top:1392px;font-size:16.5px;color:#74778f;letter-spacing:0.812px;">13:42</div>
<div class="t" style="left:2062.35px;top:1367px;font-size:16.5px;color:#6b6e88;letter-spacing:-0.800px;">N.A.</div>
<div class="r" style="left:78.00px;top:1443.00px;width:2446.00px;height:55.50px;background:#f8f9fb;"></div>
<div class="t" style="left:78.70px;top:1461px;font-size:16.5px;color:#4a4c5c;letter-spacing:-0.275px;">Job ID:</div>
<div class="r" style="left:141.00px;top:1453.50px;width:454.60px;height:35.00px;background:#f3f3f9;border-radius:6px;"></div>
<div class="t" style="left:146.30px;top:1462px;font-size:18.55px;color:#5b5e78;font-family:'DejaVu Sans Mono',monospace;-webkit-text-stroke:0.3px #5b5e78;">e0659f16<span class="hy">-</span>6359<span class="hy">-</span>4972<span class="hy">-</span>9f3e<span class="hy">-</span>e7fb1d1c8de8</div>
<svg class="r" style="left:562.00px;top:1463.10px" width="16" height="16" viewBox="0 0 16 16"><rect x="0.9" y="5" width="10" height="10" rx="1.6" fill="none" stroke="#585b75" stroke-width="1.8"/><path d="M5 3.2 V2.6 a1.5 1.5 0 0 1 1.5 -1.5 H13.4 a1.5 1.5 0 0 1 1.5 1.5 V8.4 a1.5 1.5 0 0 1 -1.5 1.5 H13.2" fill="none" stroke="#585b75" stroke-width="1.8" stroke-linecap="round"/></svg>
<div class="r" style="left:620.30px;top:1457.20px;width:1.50px;height:28.70px;background:#d5d6e0;"></div>
<div class="t" style="left:646.50px;top:1461px;font-size:16.5px;color:#4a4c5c;letter-spacing:0.106px;">Job Type:</div>
<svg class="r" style="left:2054.50px;top:1463.10px" width="16" height="16" viewBox="0 0 16 16"><rect x="1.3" y="2.2" width="13.4" height="12.5" rx="2" fill="none" stroke="#686b85" stroke-width="1.3"/><path d="M1.3 5.6 H14.7" stroke="#686b85" stroke-width="1.3"/><path d="M4.7 0.8 V3.4 M11.8 0.8 V3.4" stroke="#686b85" stroke-width="1.5" stroke-linecap="round"/><g fill="#b4b6c6"><rect x="3.5" y="7.6" width="2" height="1.4"/><rect x="7" y="7.6" width="2" height="1.4"/><rect x="10.5" y="7.6" width="2" height="1.4"/><rect x="3.5" y="10.6" width="2" height="1.4"/><rect x="7" y="10.6" width="2" height="1.4"/><rect x="10.5" y="10.6" width="2" height="1.4"/></g></svg>
<div class="t" style="left:2077.30px;top:1461px;font-size:16.5px;color:#3e4050;letter-spacing:0.131px;">Job Started On</div>
<div class="t" style="left:2202.00px;top:1461px;font-size:16.5px;color:#6b6e88;letter-spacing:0.647px;">08-Nov-2024 13:40:19</div>
<div class="r" style="left:2404.00px;top:1457.20px;width:1.50px;height:28.70px;background:#d5d6e0;"></div>
<svg class="r" style="left:2429.00px;top:1462.50px" width="18" height="18" viewBox="0 0 18 18"><path d="M16.1 9.3 A7.2 7.2 0 1 1 13.9 3.9" fill="none" stroke="#5b5e7a" stroke-width="1.7"/><path d="M16.1 1.3 V6.1 H11.3" fill="none" stroke="#5b5e7a" stroke-width="1.7" stroke-linejoin="round" stroke-linecap="round"/></svg>
<div class="t" style="left:2451.30px;top:1462px;font-size:16.5px;color:#3e4050;letter-spacing:0.131px;">Retries</div>
<div class="t" style="left:2515.00px;top:1462px;font-size:16.5px;color:#6b6e88;">1</div>
</div></div>
<div class="r" style="left:0.00px;top:1473.00px;width:2616.00px;height:85.20px;background:#ffffff;"></div>
<div class="r" style="left:0.00px;top:1558.20px;width:2616.00px;height:4.00px;background:#f8f9fd;"></div>
<div class="t" style="left:51.30px;top:1507px;font-size:16.5px;color:#101116;-webkit-text-stroke:0.45px #101116;letter-spacing:0.727px;">(1 - 10) of 1000</div>
<div class="r" style="left:851.60px;top:1495.00px;width:783.60px;height:41.80px;background:#ffffff;border-radius:21px;box-shadow:0 2px 5px rgba(40,40,80,0.10),0 0 1px rgba(40,40,80,0.12);"></div>
<div class="r" style="left:968.00px;top:1495.00px;width:62.80px;height:41.80px;background:#418fde;"></div>
<div class="r" style="left:1095.20px;top:1495.00px;width:1.20px;height:41.80px;background:#eeeef3;"></div>
<div class="r" style="left:1161.20px;top:1495.00px;width:1.20px;height:41.80px;background:#eeeef3;"></div>
<div class="r" style="left:1226.80px;top:1495.00px;width:1.20px;height:41.80px;background:#eeeef3;"></div>
<div class="r" style="left:1292.20px;top:1495.00px;width:1.20px;height:41.80px;background:#eeeef3;"></div>
<div class="r" style="left:1348.00px;top:1495.00px;width:1.20px;height:41.80px;background:#eeeef3;"></div>
<div class="r" style="left:1424.90px;top:1495.00px;width:1.20px;height:41.80px;background:#eeeef3;"></div>
<div class="r" style="left:1511.80px;top:1495.00px;width:1.20px;height:41.80px;background:#eeeef3;"></div>
<svg class="r" style="left:878.50px;top:1507.60px" width="16" height="16" viewBox="0 0 16 16"><path d="M14.5 9 H3 M8 3.8 L2.8 9 L8 14.2" fill="none" stroke="#8587a5" stroke-width="1.8" stroke-linecap="round" stroke-linejoin="round"/></svg>
<div class="t" style="left:900.80px;top:1505px;font-size:19.5px;color:#8587a5;letter-spacing:-0.100px;">Prev</div>
<div class="t" style="left:993.78px;top:1505px;font-size:19.5px;color:#ffffff;">1</div>
<div class="t" style="left:1057.67px;top:1505px;font-size:19.5px;color:#2f6fcd;">2</div>
<div class="t" style="left:1123.38px;top:1505px;font-size:19.5px;color:#2f6fcd;">3</div>
<div class="t" style="left:1188.78px;top:1505px;font-size:19.5px;color:#2f6fcd;">4</div>
<div class="t" style="left:1254.78px;top:1505px;font-size:19.5px;color:#2f6fcd;">5</div>
<div class="r" style="left:1310.30px;top:1512.90px;width:5.00px;height:5.00px;background:#60627a;border-radius:50%;"></div>
<div class="r" style="left:1318.10px;top:1512.90px;width:5.00px;height:5.00px;background:#60627a;border-radius:50%;"></div>
<div class="r" style="left:1325.90px;top:1512.90px;width:5.00px;height:5.00px;background:#60627a;border-radius:50%;"></div>
<div class="t" style="left:1376.40px;top:1505px;font-size:19.5px;color:#2f6fcd;letter-spacing:0.400px;">99</div>
<div class="t" style="left:1453.50px;top:1505px;font-size:19.5px;color:#2f6fcd;letter-spacing:-0.325px;">100</div>
<div class="t" style="left:1540.90px;top:1505px;font-size:19.5px;color:#2f6fcd;letter-spacing:0.400px;">Next</div>
<svg class="r" style="left:1593.00px;top:1507.60px" width="16" height="16" viewBox="0 0 16 16"><path d="M1.5 9 H13 M8 3.8 L13.2 9 L8 14.2" fill="none" stroke="#2f6fcd" stroke-width="1.8" stroke-linecap="round" stroke-linejoin="round"/></svg>
<div class="t" style="left:2323.30px;top:1505px;font-size:18.25px;color:#5d6078;letter-spacing:0.567px;">Show</div>
<div class="r" style="left:2382.40px;top:1495.40px;width:79.10px;height:41.00px;background:#f9faff;border:1.3px solid #d8d9e4;border-radius:6px;box-sizing:border-box;"></div>
<div class="t" style="left:2400.30px;top:1505px;font-size:18.25px;color:#111217;letter-spacing:-1.600px;">10</div>
<svg class="r" style="left:2433.00px;top:1512.00px" width="12" height="9" viewBox="0 0 12 9"><path d="M1 1.5 L6 6.5 L11 1.5" fill="none" stroke="#8a8ca3" stroke-width="1.5" stroke-linecap="round" stroke-linejoin="round"/></svg>
<div class="t" style="left:2473.30px;top:1505px;font-size:18.25px;color:#5d6078;letter-spacing:0.750px;">per page</div>
</body></html>
